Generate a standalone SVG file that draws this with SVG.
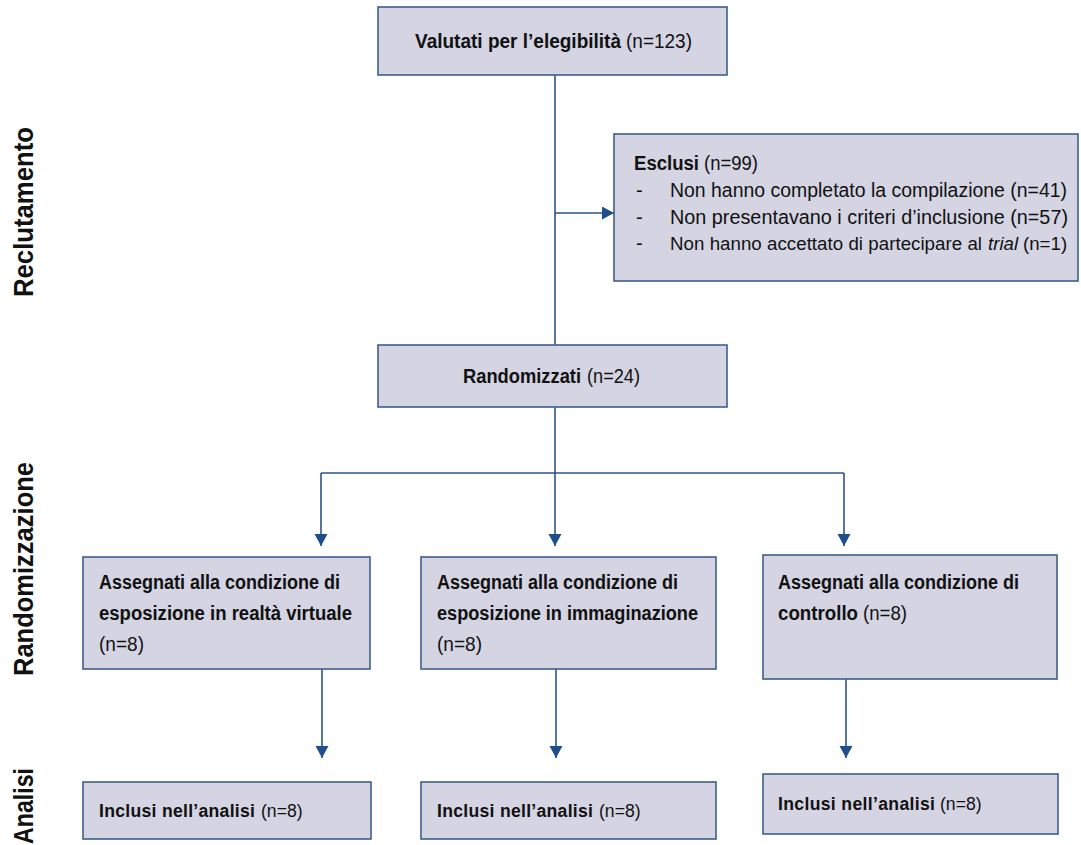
<svg xmlns="http://www.w3.org/2000/svg" width="1081" height="845" viewBox="0 0 1081 845">
<style>
.box{fill:#d4d4e3;stroke:#3f5f8a;stroke-width:1.6}
.t{font-family:"Liberation Sans",Arial,sans-serif;font-size:20px;fill:#111}
.s{font-size:18.7px}
.inc{font-size:17.6px}
.b{font-weight:bold}
.i{font-style:italic}
.lab{font-family:"Liberation Sans",Arial,sans-serif;font-size:27px;font-weight:bold;fill:#111}
.c{fill:none;stroke:#2d5486;stroke-width:1.6}
</style>
<defs>
<marker id="ah" markerUnits="userSpaceOnUse" markerWidth="14" markerHeight="14" refX="12" refY="6.5" orient="auto">
<path d="M0,0 L12,6.5 L0,13 z" fill="#1f4e8c"/>
</marker>
</defs>
<rect width="1081" height="845" fill="#fff"/>
<g id="labels">
<text class="lab" transform="translate(33,212) rotate(-90)" text-anchor="middle" textLength="170" lengthAdjust="spacingAndGlyphs">Reclutamento</text>
<text class="lab" transform="translate(33,569) rotate(-90)" text-anchor="middle" textLength="214" lengthAdjust="spacingAndGlyphs">Randomizzazione</text>
<text class="lab" transform="translate(33,806) rotate(-90)" text-anchor="middle" textLength="76" lengthAdjust="spacingAndGlyphs">Analisi</text>
</g>
<g id="connectors">
<line class="c" x1="555" y1="75" x2="555" y2="345"/>
<line class="c" x1="555" y1="213" x2="614" y2="213" marker-end="url(#ah)"/>
<line class="c" x1="555" y1="407" x2="555" y2="473"/>
<line class="c" x1="321" y1="473" x2="844" y2="473"/>
<line class="c" x1="321" y1="473" x2="321" y2="546" marker-end="url(#ah)"/>
<line class="c" x1="555" y1="473" x2="555" y2="546" marker-end="url(#ah)"/>
<line class="c" x1="844" y1="473" x2="844" y2="546" marker-end="url(#ah)"/>
<line class="c" x1="322" y1="669" x2="322" y2="758" marker-end="url(#ah)"/>
<line class="c" x1="556" y1="669" x2="556" y2="758" marker-end="url(#ah)"/>
<line class="c" x1="846" y1="679" x2="846" y2="758" marker-end="url(#ah)"/>
</g>
<g id="valutati">
<rect class="box" x="378" y="7" width="349" height="68"/>
<text class="t b" x="415" y="48" textLength="206" lengthAdjust="spacingAndGlyphs">Valutati per l’elegibilità</text>
<text class="t" x="626" y="48" textLength="66" lengthAdjust="spacingAndGlyphs">(n=123)</text>
</g>
<g id="esclusi">
<rect class="box" x="614" y="134" width="464" height="147"/>
<text class="t b" x="634" y="170" textLength="65" lengthAdjust="spacingAndGlyphs">Esclusi</text>
<text class="t" x="704" y="170" textLength="54" lengthAdjust="spacingAndGlyphs">(n=99)</text>
<text class="t" x="636" y="197">-</text>
<text class="t" x="670" y="197" textLength="397" lengthAdjust="spacingAndGlyphs">Non hanno completato la compilazione (n=41)</text>
<text class="t" x="636" y="224">-</text>
<text class="t" x="670" y="224" textLength="398" lengthAdjust="spacingAndGlyphs">Non presentavano i criteri d’inclusione (n=57)</text>
<text class="t" x="636" y="250">-</text>
<text class="t s" x="670" y="250" textLength="312">Non hanno accettato di partecipare al</text>
<text class="t s i" x="988" y="250">trial</text>
<text class="t s" x="1023" y="250">(n=1)</text>
</g>
<g id="randomizzati">
<rect class="box" x="378" y="345" width="349" height="62"/>
<text class="t b" x="463" y="383" textLength="118" lengthAdjust="spacingAndGlyphs">Randomizzati</text>
<text class="t" x="587" y="383" textLength="53" lengthAdjust="spacingAndGlyphs">(n=24)</text>
</g>
<g id="vr">
<rect class="box" x="83" y="557" width="287" height="112"/>
<text class="t b" x="99" y="589" textLength="241" lengthAdjust="spacingAndGlyphs">Assegnati alla condizione di</text>
<text class="t b" x="99" y="620" textLength="253" lengthAdjust="spacingAndGlyphs">esposizione in realtà virtuale</text>
<text class="t" x="99" y="651" textLength="45" lengthAdjust="spacingAndGlyphs">(n=8)</text>
</g>
<g id="imm">
<rect class="box" x="421" y="557" width="295" height="112"/>
<text class="t b" x="437" y="589" textLength="241" lengthAdjust="spacingAndGlyphs">Assegnati alla condizione di</text>
<text class="t b" x="437" y="620" textLength="261" lengthAdjust="spacingAndGlyphs">esposizione in immaginazione</text>
<text class="t" x="437" y="651" textLength="45" lengthAdjust="spacingAndGlyphs">(n=8)</text>
</g>
<g id="ctrl">
<rect class="box" x="763" y="555" width="294" height="124"/>
<text class="t b" x="778" y="589" textLength="241" lengthAdjust="spacingAndGlyphs">Assegnati alla condizione di</text>
<text class="t b" x="778" y="620" textLength="80" lengthAdjust="spacingAndGlyphs">controllo</text>
<text class="t" x="863" y="620" textLength="44" lengthAdjust="spacingAndGlyphs">(n=8)</text>
</g>
<g id="inc1">
<rect class="box" x="83" y="782" width="288" height="57"/>
<text class="t inc b" x="99" y="817" textLength="156">Inclusi nell’analisi</text>
<text class="t inc" x="261" y="817">(n=8)</text>
</g>
<g id="inc2">
<rect class="box" x="421" y="782" width="295" height="57"/>
<text class="t inc b" x="437" y="817" textLength="156">Inclusi nell’analisi</text>
<text class="t inc" x="599" y="817">(n=8)</text>
</g>
<g id="inc3">
<rect class="box" x="763" y="774" width="295" height="60"/>
<text class="t inc b" x="778" y="810" textLength="157">Inclusi nell’analisi</text>
<text class="t inc" x="940" y="810">(n=8)</text>
</g>
</svg>
